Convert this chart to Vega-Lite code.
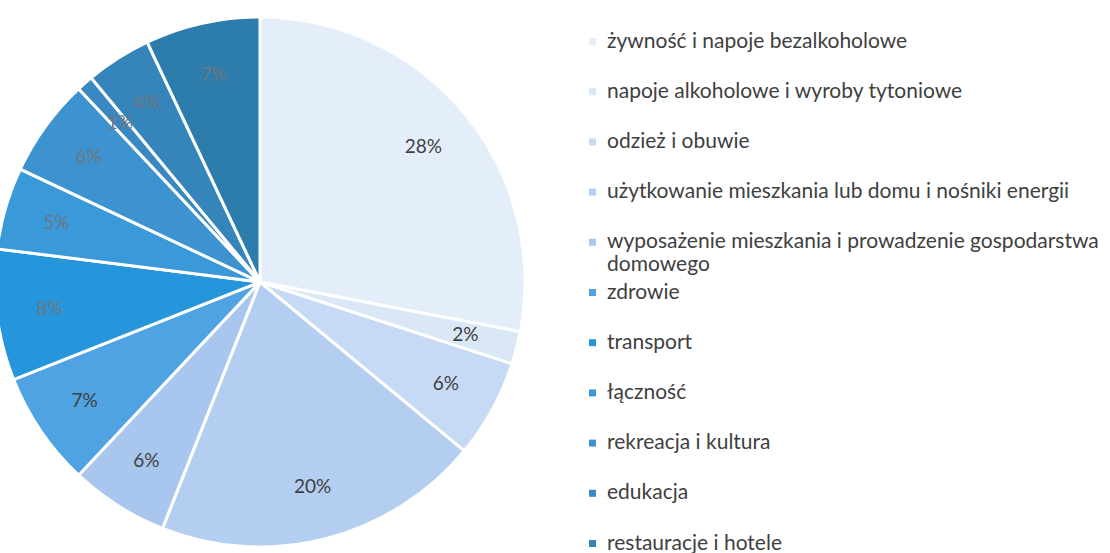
{
  "$schema": "https://vega.github.io/schema/vega-lite/v6.json",
  "width": 520,
  "height": 564,
  "autosize": {"type": "none"},
  "padding": {"left": 0, "top": 0, "right": 590, "bottom": 0},
  "background": "white",
  "config": {"view": {"stroke": null}, "font": "Lato"},
  "data": {
    "values": [
      {"idx": 1, "kategoria": "żywność i napoje bezalkoholowe", "udzial": 0.28},
      {"idx": 2, "kategoria": "napoje alkoholowe i wyroby tytoniowe", "udzial": 0.02},
      {"idx": 3, "kategoria": "odzież i obuwie", "udzial": 0.06},
      {"idx": 4, "kategoria": "użytkowanie mieszkania lub domu i nośniki energii", "udzial": 0.20},
      {"idx": 5, "kategoria": "wyposażenie mieszkania i prowadzenie gospodarstwa domowego", "udzial": 0.06},
      {"idx": 6, "kategoria": "zdrowie", "udzial": 0.07},
      {"idx": 7, "kategoria": "transport", "udzial": 0.08},
      {"idx": 8, "kategoria": "łączność", "udzial": 0.05},
      {"idx": 9, "kategoria": "rekreacja i kultura", "udzial": 0.06},
      {"idx": 10, "kategoria": "edukacja", "udzial": 0.01},
      {"idx": 11, "kategoria": "restauracje i hotele", "udzial": 0.04},
      {"idx": 12, "kategoria": "pozostałe wydatki na towary i usługi", "udzial": 0.07}
    ]
  },
  "encoding": {
    "theta": {"field": "udzial", "type": "quantitative", "stack": true},
    "order": {"field": "idx", "type": "quantitative"}
  },
  "layer": [
    {
      "mark": {"type": "arc", "outerRadius": 265, "stroke": "white", "strokeWidth": 3},
      "encoding": {
        "color": {
          "field": "kategoria",
          "type": "nominal",
          "sort": {"field": "idx"},
          "scale": {
            "domain": [
              "żywność i napoje bezalkoholowe",
              "napoje alkoholowe i wyroby tytoniowe",
              "odzież i obuwie",
              "użytkowanie mieszkania lub domu i nośniki energii",
              "wyposażenie mieszkania i prowadzenie gospodarstwa domowego",
              "zdrowie",
              "transport",
              "łączność",
              "rekreacja i kultura",
              "edukacja",
              "restauracje i hotele",
              "pozostałe wydatki na towary i usługi"
            ],
            "range": ["#e3eefa", "#d9e7f7", "#c6daf5", "#b4cef2", "#a9c7ee", "#4fa3e2", "#2596dc", "#3a9ad9", "#3d93cf", "#3a88c2", "#3585ba", "#2d7dac"]
          },
          "legend": {
            "title": null,
            "orient": "none",
            "legendX": 582,
            "legendY": 31,
            "padding": 0,
            "symbolType": "square",
            "symbolSize": 49,
            "symbolStrokeWidth": 0,
            "labelFont": "Lato",
            "labelFontSize": 21,
            "labelColor": "#404040",
            "labelOffset": 4,
            "labelLimit": 600,
            "gridAlign": "all",
            "rowPadding": 5.2,
            "labelExpr": "datum.label == 'wyposażenie mieszkania i prowadzenie gospodarstwa domowego' ? ['wyposażenie mieszkania i prowadzenie gospodarstwa', 'domowego'] : datum.label",
            "encode": {"labels": {"update": {"lineHeight": {"value": 25}}}}
          }
        }
      }
    },
    {
      "mark": {"type": "text", "radius": 212, "fontSize": 19, "font": "Lato"},
      "encoding": {
        "text": {"field": "udzial", "type": "quantitative", "format": ".0%"},
        "color": {
          "condition": {"test": "datum.idx <= 6", "value": "#404040"},
          "value": "#6f7680"
        }
      }
    }
  ]
}
